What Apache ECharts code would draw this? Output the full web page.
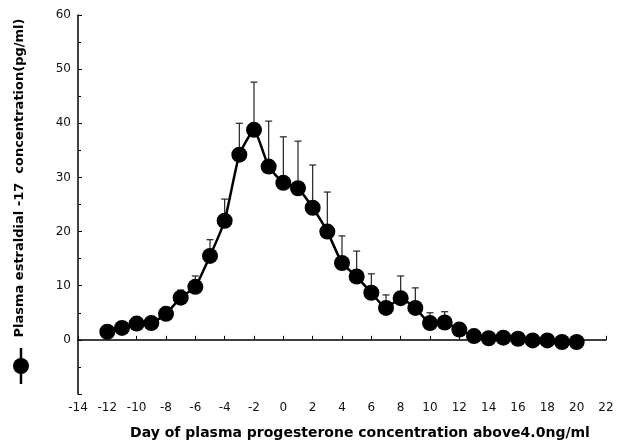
<!DOCTYPE html>
<html>
<head>
<meta charset="utf-8">
<script src="https://cdn.jsdelivr.net/npm/echarts@6/dist/echarts.min.js"></script>
<style>
  html, body { margin: 0; padding: 0; background: #fff; }
  #chart { width: 622px; height: 445px; }
</style>
</head>
<body>
<div id="chart"></div>
<script>
// Day relative to progesterone rising above 4.0 ng/ml
const days = [-12, -11, -10, -9, -8, -7, -6, -5, -4, -3, -2, -1, 0, 1, 2, 3, 4, 5, 6, 7, 8, 9, 10, 11, 12, 13, 14, 15, 16, 17, 18, 19, 20];
// Mean plasma estradiol-17 (pg/ml)
const means = [1.5, 2.2, 3.0, 3.1, 4.8, 7.8, 9.8, 15.5, 22.0, 34.2, 38.8, 32.0, 29.0, 28.0, 24.4, 20.0, 14.2, 11.7, 8.7, 5.9, 7.7, 5.9, 3.1, 3.2, 1.9, 0.7, 0.3, 0.4, 0.2, -0.1, -0.1, -0.4, -0.4];
// Upper error (SE) per day; null where no bar is drawn
const errors = [null, null, null, null, null, 1.4, 2.0, 3.0, 4.0, 5.8, 8.8, 8.4, 8.5, 8.7, 7.9, 7.3, 5.0, 4.7, 3.5, 2.4, 4.1, 3.7, 1.9, 2.0, null, null, null, null, null, null, null, null, null];
// Axis ticks
const xTicks = [-14, -12, -10, -8, -6, -4, -2, 0, 2, 4, 6, 8, 10, 12, 14, 16, 18, 20, 22];
const yTicks = [0, 10, 20, 30, 40, 50, 60];

const lineData = days.map((d, i) => [d, means[i]]);
const errData = days.map((d, i) => [d, means[i], errors[i]]).filter(r => r[2] != null);

const chart = echarts.init(document.getElementById('chart'), null, { renderer: 'canvas' });

const tickFont = { color: '#111', fontFamily: 'DejaVu Sans, sans-serif', fontSize: 12 };
const titleFont = 'DejaVu Sans, sans-serif';

chart.setOption({
  animation: false,
  backgroundColor: '#fff',
  grid: { left: 78, right: 16, top: 15, bottom: 51, containLabel: false },
  xAxis: {
    type: 'value',
    min: xTicks[0],
    max: xTicks[xTicks.length - 1],
    interval: 2,
    axisLine: { show: true, lineStyle: { color: '#000', width: 1.5 } },
    axisTick: { show: true, inside: true, length: 4, lineStyle: { color: '#000' } },
    axisLabel: Object.assign({ margin: 8 }, tickFont),
    splitLine: { show: false }
  },
  yAxis: {
    type: 'value',
    min: -10,
    max: yTicks[yTicks.length - 1],
    interval: 10,
    axisLine: { show: true, onZero: false, lineStyle: { color: '#000', width: 1.5 } },
    axisTick: { show: true, inside: true, length: 4, lineStyle: { color: '#000' } },
    minorTick: { show: true, splitNumber: 2, length: 3, lineStyle: { color: '#000' } },
    axisLabel: Object.assign({
      margin: 7,
      formatter: v => (yTicks.indexOf(v) >= 0 ? String(v) : '')
    }, tickFont),
    splitLine: { show: false }
  },
  series: [
    {
      // upper error bars with caps
      type: 'custom',
      z: 1,
      data: errData,
      renderItem: function (params, api) {
        const x = api.value(0);
        const m = api.value(1);
        const e = api.value(2);
        const p0 = api.coord([x, m]);
        const p1 = api.coord([x, m + e]);
        const cap = 3.5;
        const style = { stroke: '#222', lineWidth: 1.2 };
        return {
          type: 'group',
          children: [
            { type: 'line', shape: { x1: p0[0], y1: p0[1], x2: p1[0], y2: p1[1] }, style: style },
            { type: 'line', shape: { x1: p1[0] - cap, y1: p1[1], x2: p1[0] + cap, y2: p1[1] }, style: style }
          ]
        };
      }
    },
    {
      type: 'line',
      z: 2,
      data: lineData,
      smooth: 0.15,
      symbol: 'circle',
      symbolSize: 16,
      itemStyle: { color: '#000' },
      lineStyle: { color: '#000', width: 2.5 }
    }
  ],
  graphic: [
    {
      type: 'text',
      x: 20, y: 178,
      rotation: Math.PI / 2,
      style: {
        text: 'Plasma estraldial -17  concentration(pg/ml)',
        fontFamily: titleFont,
        fontWeight: 'bold',
        fontSize: 13,
        fill: '#000',
        textAlign: 'center',
        textVerticalAlign: 'middle'
      }
    },
    {
      type: 'line',
      shape: { x1: 21, y1: 348, x2: 21, y2: 384 },
      style: { stroke: '#000', lineWidth: 2.5 }
    },
    {
      type: 'circle',
      shape: { cx: 21, cy: 366, r: 8 },
      style: { fill: '#000' }
    },
    {
      type: 'text',
      x: 360, y: 433,
      style: {
        text: 'Day of plasma progesterone concentration above4.0ng/ml',
        fontFamily: titleFont,
        fontWeight: 'bold',
        fontSize: 14,
        fill: '#000',
        textAlign: 'center',
        textVerticalAlign: 'middle'
      }
    }
  ]
});
</script>
</body>
</html>
